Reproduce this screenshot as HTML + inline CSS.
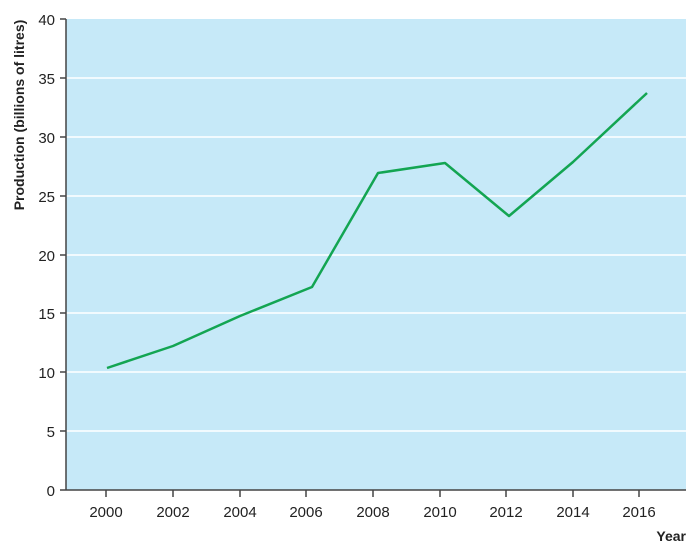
<!DOCTYPE html>
<html><head><style>body{margin:0;background:#fff}</style></head><body>
<svg width="694" height="546" xmlns="http://www.w3.org/2000/svg" font-family="Liberation Sans, sans-serif">
<rect x="66" y="19" width="620" height="471" fill="#c6e9f8"/>
<g stroke="#fff" stroke-width="1.5">
<line x1="66" x2="686" y1="78" y2="78"/><line x1="66" x2="686" y1="137" y2="137"/>
<line x1="66" x2="686" y1="196" y2="196"/><line x1="66" x2="686" y1="255" y2="255"/>
<line x1="66" x2="686" y1="313" y2="313"/><line x1="66" x2="686" y1="372" y2="372"/>
<line x1="66" x2="686" y1="431" y2="431"/>
</g>
<g stroke="#444" stroke-width="1.5">
<line x1="66" y1="19" x2="66" y2="490"/><line x1="60" y1="490" x2="686" y2="490"/>
<line x1="60" x2="66" y1="19" y2="19"/><line x1="60" x2="66" y1="78" y2="78"/><line x1="60" x2="66" y1="137" y2="137"/><line x1="60" x2="66" y1="196" y2="196"/><line x1="60" x2="66" y1="255" y2="255"/><line x1="60" x2="66" y1="313" y2="313"/><line x1="60" x2="66" y1="372" y2="372"/><line x1="60" x2="66" y1="431" y2="431"/>
<line x1="106" x2="106" y1="490" y2="497"/><line x1="173" x2="173" y1="490" y2="497"/><line x1="240" x2="240" y1="490" y2="497"/><line x1="306" x2="306" y1="490" y2="497"/><line x1="373" x2="373" y1="490" y2="497"/><line x1="440" x2="440" y1="490" y2="497"/><line x1="506" x2="506" y1="490" y2="497"/><line x1="573" x2="573" y1="490" y2="497"/><line x1="639" x2="639" y1="490" y2="497"/>
</g>
<g font-size="15" fill="#222" text-anchor="end">
<text x="55" y="25">40</text><text x="55" y="84">35</text><text x="55" y="143">30</text><text x="55" y="202">25</text><text x="55" y="261">20</text><text x="55" y="319">15</text><text x="55" y="378">10</text><text x="55" y="437">5</text><text x="55" y="496">0</text>
</g>
<g font-size="15" fill="#222" text-anchor="middle">
<text x="106" y="517">2000</text><text x="173" y="517">2002</text><text x="240" y="517">2004</text><text x="306" y="517">2006</text><text x="373" y="517">2008</text><text x="440" y="517">2010</text><text x="506" y="517">2012</text><text x="573" y="517">2014</text><text x="639" y="517">2016</text>
</g>
<text x="686" y="541" font-size="14" font-weight="bold" fill="#222" text-anchor="end">Year</text>
<text transform="translate(24,115) rotate(-90)" font-size="14" font-weight="bold" fill="#222" text-anchor="middle">Production (billions of litres)</text>
<polyline fill="none" stroke="#13a552" stroke-width="2.5" stroke-linejoin="round" points="107,368 173,346 240,316 312,287 378,173 445,163 509,216 573,162 647,93"/>
</svg>
</body></html>
